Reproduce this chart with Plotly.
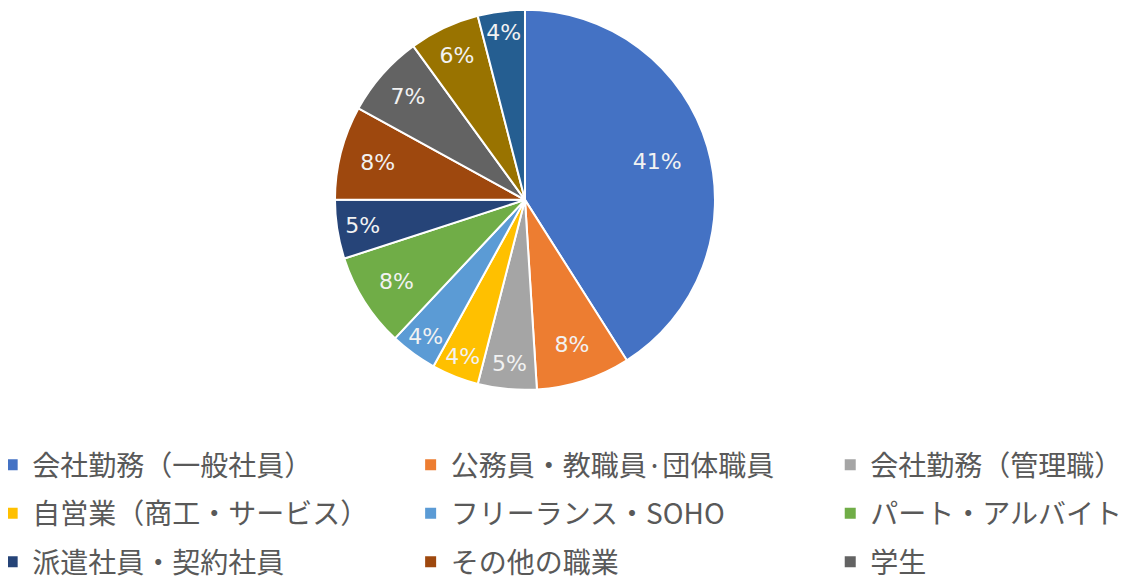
import plotly.graph_objects as go

# 職業の構成比（%）, 12時から時計回り
occupations = ["会社勤務（一般社員）", "公務員・教職員·団体職員", "会社勤務（管理職）",
               "自営業（商工・サービス）", "フリーランス・SOHO", "パート・アルバイト",
               "派遣社員・契約社員", "その他の職業", "学生", "専業主婦（主夫）", "無職"]
shares = [41, 8, 5, 4, 4, 8, 5, 8, 7, 6, 4]
colors = ["#4472C4", "#ED7D31", "#A5A5A5", "#FFC000", "#5B9BD5", "#70AD47",
          "#264478", "#9E480E", "#636363", "#997300", "#255E91"]

# legend columns as they appear under the chart (only the first 9 are visible)
legend_cols = [occupations[0:9:3], occupations[1:9:3], occupations[2:9:3]]
col_x = [-0.014, 0.356, 0.727]

font_family = "Noto Sans CJK JP"
pie_domain = dict(x=[0.2891, 0.6251], y=[0.346, 0.997])

fig = go.Figure()
# full pie
fig.add_trace(go.Pie(
    labels=occupations, values=shares,
    sort=False, direction="clockwise", rotation=0,
    marker=dict(colors=colors, line=dict(color="white", width=2)),
    textinfo="none", domain=pie_domain,
    showlegend=False, hoverinfo="label+percent",
))
# invisible ring on top, only used so the percentages sit out towards the rim
fig.add_trace(go.Pie(
    labels=occupations, values=shares, hole=0.45,
    sort=False, direction="clockwise", rotation=0,
    marker=dict(colors=["rgba(0,0,0,0)"] * len(shares), line=dict(width=0)),
    texttemplate="%{percent:.0%}", textposition="inside",
    insidetextorientation="horizontal",
    textfont=dict(family="DejaVu Sans", size=22, color="#f2f2f2"),
    domain=pie_domain,
    showlegend=False, hoverinfo="skip",
))

for i, col in enumerate(legend_cols):
    lg = "legend" if i == 0 else "legend%d" % (i + 1)
    for name in col:
        fig.add_trace(go.Scatter(
            x=[None], y=[None], mode="markers", name=name, legend=lg,
            legendgroup=name,
            marker=dict(symbol="square", size=11, color=colors[occupations.index(name)]),
        ))

leg_style = dict(orientation="v", y=0.26, xanchor="left", yanchor="top",
                 tracegroupgap=9, bgcolor="rgba(0,0,0,0)",
                 font=dict(family=font_family, size=28, color="#595959"),
                 itemclick=False, itemdoubleclick=False)
fig.update_layout(
    width=1131, height=584,
    margin=dict(l=0, r=0, t=0, b=0, autoexpand=False),
    paper_bgcolor="white", plot_bgcolor="white",
    xaxis=dict(visible=False), yaxis=dict(visible=False),
    uniformtext=dict(minsize=22, mode="show"),
    legend=dict(leg_style, x=col_x[0]),
    legend2=dict(leg_style, x=col_x[1]),
    legend3=dict(leg_style, x=col_x[2]),
)

fig.write_html("out.html")
